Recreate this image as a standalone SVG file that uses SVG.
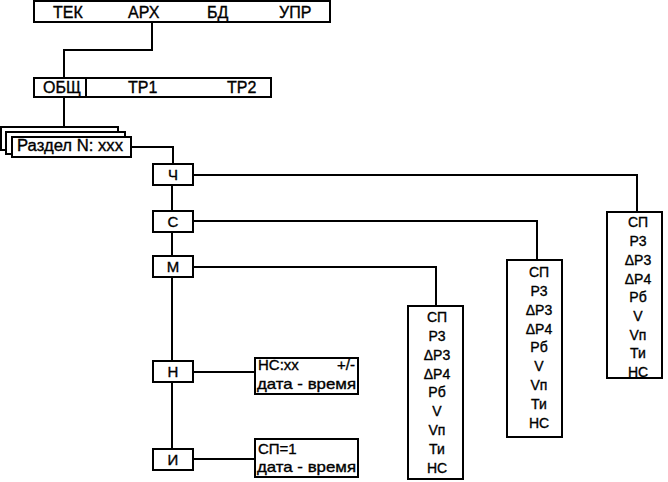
<svg xmlns="http://www.w3.org/2000/svg" width="668" height="482" viewBox="0 0 668 482">
<style>
  .box{fill:#fff;stroke:#000;stroke-width:2}
  .ln{fill:none;stroke:#000;stroke-width:2}
  text{font-family:"Liberation Sans",Arial,sans-serif;fill:#000;stroke:#000;stroke-width:0.35}
  .big{font-size:16px}
  .mid{font-size:15px}
  .sm{font-size:15px}
  .lst{font-size:14px;text-anchor:middle}
  .c{text-anchor:middle}
</style>
<rect width="668" height="482" fill="#fff"/>
<g id="connectors">
  <polyline class="ln" points="152,22 152,50 64,50 64,78"/>
  <polyline class="ln" points="64,97 64,127"/>
  <polyline class="ln" points="131,147 173,147 173,164"/>
  <line class="ln" x1="172" y1="185" x2="172" y2="448"/>
  <polyline class="ln" points="193,175 637,175 637,212"/>
  <polyline class="ln" points="193,221 537,221 537,260"/>
  <polyline class="ln" points="193,267 436,267 436,306"/>
  <line class="ln" x1="193" y1="372" x2="255" y2="372"/>
  <line class="ln" x1="193" y1="459" x2="255" y2="459"/>
</g>
<g id="menu-top">
  <rect class="box" x="34" y="1" width="296" height="21"/>
  <text class="big" x="53" y="18">ТЕК</text>
  <text class="big" x="128" y="18">АРХ</text>
  <text class="big" x="207" y="18">БД</text>
  <text class="big" x="279" y="18">УПР</text>
</g>
<g id="menu-arch">
  <rect class="box" x="34" y="78" width="237" height="19"/>
  <line class="ln" x1="86" y1="79" x2="86" y2="97"/>
  <text class="big" x="43" y="93">ОБЩ</text>
  <text class="big" x="128" y="93">ТР1</text>
  <text class="big" x="227" y="93">ТР2</text>
</g>
<g id="sections">
  <rect class="box" x="1" y="127" width="117" height="23"/>
  <rect class="box" x="6" y="132" width="119" height="22"/>
  <rect class="box" x="12" y="137" width="119" height="20"/>
  <text class="big" x="17" y="151" textLength="106" lengthAdjust="spacingAndGlyphs">Раздел N: xxx</text>
</g>
<g id="node-ch">
  <rect class="box" x="153" y="164" width="40" height="21"/>
  <text class="mid c" x="173" y="180">Ч</text>
</g>
<g id="node-s">
  <rect class="box" x="153" y="211" width="40" height="21"/>
  <text class="mid c" x="173" y="227">С</text>
</g>
<g id="node-m">
  <rect class="box" x="153" y="256" width="40" height="21"/>
  <text class="mid c" x="173" y="272">М</text>
</g>
<g id="node-n">
  <rect class="box" x="153" y="361" width="40" height="21"/>
  <text class="mid c" x="173" y="377">Н</text>
</g>
<g id="node-i">
  <rect class="box" x="153" y="449" width="40" height="21"/>
  <text class="mid c" x="173" y="465">И</text>
</g>
<g id="info-n">
  <rect class="box" x="255" y="358" width="103" height="36"/>
  <text class="sm" x="258" y="370">НС:хх</text>
  <text class="sm" x="355" y="370" text-anchor="end">+/-</text>
  <text class="sm" x="257" y="389" textLength="99" lengthAdjust="spacingAndGlyphs">дата - время</text>
</g>
<g id="info-i">
  <rect class="box" x="255" y="439" width="103" height="38"/>
  <text class="sm" x="258" y="454">СП=1</text>
  <text class="sm" x="257" y="472" textLength="99" lengthAdjust="spacingAndGlyphs">дата - время</text>
</g>
<g id="list-m">
  <rect class="box" x="408" y="306" width="55" height="173"/>
  <text class="lst" x="437" y="322">СП</text>
  <text class="lst" x="437" y="341">Р3</text>
  <text class="lst" x="437" y="360">ΔР3</text>
  <text class="lst" x="437" y="379">ΔР4</text>
  <text class="lst" x="437" y="397">Рб</text>
  <text class="lst" x="437" y="416">V</text>
  <text class="lst" x="437" y="435">Vп</text>
  <text class="lst" x="437" y="454">Ти</text>
  <text class="lst" x="437" y="473">НС</text>
</g>
<g id="list-s">
  <rect class="box" x="507" y="260" width="55" height="177"/>
  <text class="lst" x="539" y="277">СП</text>
  <text class="lst" x="539" y="296">Р3</text>
  <text class="lst" x="539" y="315">ΔР3</text>
  <text class="lst" x="539" y="334">ΔР4</text>
  <text class="lst" x="539" y="352">Рб</text>
  <text class="lst" x="539" y="371">V</text>
  <text class="lst" x="539" y="390">Vп</text>
  <text class="lst" x="539" y="409">Ти</text>
  <text class="lst" x="539" y="428">НС</text>
</g>
<g id="list-ch">
  <rect class="box" x="607" y="212" width="55" height="166"/>
  <text class="lst" x="638" y="227">СП</text>
  <text class="lst" x="638" y="246">Р3</text>
  <text class="lst" x="638" y="265">ΔР3</text>
  <text class="lst" x="638" y="284">ΔР4</text>
  <text class="lst" x="638" y="302">Рб</text>
  <text class="lst" x="638" y="321">V</text>
  <text class="lst" x="638" y="340">Vп</text>
  <text class="lst" x="638" y="358">Ти</text>
  <text class="lst" x="638" y="377">НС</text>
</g>
</svg>
